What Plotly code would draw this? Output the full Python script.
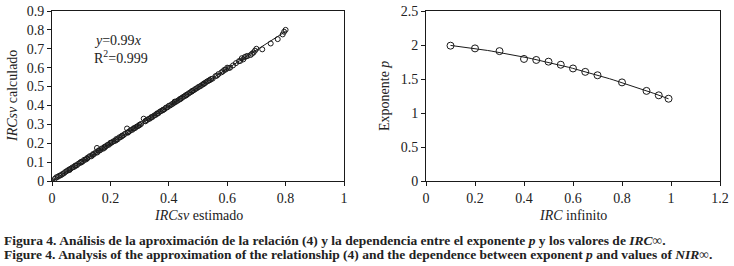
import plotly.graph_objects as go
import numpy as np

# Left panel: IRCsv estimado vs calculado
est = [0.0, 0.01, 0.015, 0.02, 0.025, 0.03, 0.035, 0.04, 0.045, 0.05, 0.055, 0.06, 0.065, 0.07, 0.075,
       0.08, 0.085, 0.09, 0.095, 0.10, 0.105, 0.11, 0.115, 0.12, 0.125, 0.13, 0.135, 0.14, 0.145,
       0.15, 0.155, 0.16, 0.165, 0.17, 0.175, 0.18, 0.185, 0.19, 0.195, 0.20, 0.205, 0.21, 0.215,
       0.22, 0.225, 0.23, 0.235, 0.24, 0.245, 0.25, 0.257, 0.26, 0.265, 0.27, 0.275, 0.28, 0.285,
       0.29, 0.295, 0.30, 0.305, 0.314, 0.32, 0.325, 0.33, 0.335, 0.34, 0.345, 0.35, 0.355, 0.36,
       0.365, 0.37, 0.375, 0.38, 0.385, 0.39, 0.395, 0.40, 0.405, 0.41, 0.415, 0.42, 0.425, 0.43,
       0.435, 0.44, 0.445, 0.45, 0.455, 0.46, 0.465, 0.47, 0.475, 0.48, 0.485, 0.49, 0.495, 0.50,
       0.505, 0.51, 0.515, 0.52, 0.525, 0.53, 0.535, 0.54, 0.545, 0.55, 0.56, 0.565, 0.57, 0.58,
       0.585, 0.59, 0.595, 0.60, 0.605, 0.61, 0.62, 0.63, 0.64, 0.645, 0.65, 0.655, 0.66, 0.665,
       0.67, 0.68, 0.685, 0.69, 0.695, 0.70, 0.72, 0.749, 0.773, 0.79, 0.795, 0.80,
       0.12, 0.14, 0.16, 0.18, 0.20, 0.22, 0.24, 0.26, 0.28, 0.30, 0.32, 0.34, 0.36, 0.38, 0.42,
       0.44, 0.46, 0.48, 0.52, 0.54, 0.10, 0.08, 0.06, 0.154]
calc = [0.0, 0.012, 0.02, 0.022, 0.028, 0.03, 0.036, 0.04, 0.047, 0.052, 0.057, 0.058, 0.066, 0.072, 0.074,
        0.082, 0.083, 0.091, 0.096, 0.102, 0.103, 0.112, 0.113, 0.121, 0.126, 0.132, 0.131, 0.142, 0.144,
        0.152, 0.151, 0.162, 0.163, 0.172, 0.171, 0.181, 0.184, 0.191, 0.192, 0.202, 0.204, 0.21, 0.212,
        0.222, 0.221, 0.231, 0.232, 0.24, 0.243, 0.25, 0.278, 0.258, 0.263, 0.27, 0.271, 0.279, 0.281,
        0.288, 0.291, 0.298, 0.302, 0.33, 0.318, 0.322, 0.328, 0.33, 0.338, 0.34, 0.347, 0.35, 0.358,
        0.36, 0.368, 0.371, 0.376, 0.38, 0.388, 0.39, 0.398, 0.4, 0.406, 0.41, 0.42, 0.42, 0.425,
        0.43, 0.436, 0.44, 0.446, 0.45, 0.456, 0.46, 0.466, 0.47, 0.476, 0.48, 0.486, 0.49, 0.496,
        0.5, 0.504, 0.51, 0.514, 0.52, 0.526, 0.53, 0.534, 0.54, 0.542, 0.555, 0.558, 0.566, 0.575,
        0.58, 0.588, 0.59, 0.6, 0.598, 0.6, 0.612, 0.624, 0.634, 0.636, 0.65, 0.644, 0.656, 0.66,
        0.662, 0.667, 0.674, 0.68, 0.69, 0.70, 0.697, 0.728, 0.751, 0.776, 0.79, 0.80,
        0.118, 0.138, 0.16, 0.176, 0.2, 0.216, 0.238, 0.256, 0.278, 0.296, 0.316, 0.336, 0.356, 0.376, 0.416,
        0.434, 0.454, 0.476, 0.516, 0.534, 0.098, 0.08, 0.062, 0.175]
fit_x = [0.0, 0.8]
fit_slope = 0.99

# Right panel: exponent p vs IRC infinito
irc_inf = [0.1, 0.2, 0.3, 0.4, 0.45, 0.5, 0.55, 0.6, 0.65, 0.7, 0.8, 0.9, 0.95, 0.99]
p_exp = [1.99, 1.95, 1.91, 1.795, 1.78, 1.755, 1.71, 1.655, 1.605, 1.555, 1.45, 1.325, 1.26, 1.21]

x_ticks_left = [0, 0.2, 0.4, 0.6, 0.8, 1]
y_ticks_left = [0, 0.1, 0.2, 0.3, 0.4, 0.5, 0.6, 0.7, 0.8, 0.9]
x_ticks_right = [0, 0.2, 0.4, 0.6, 0.8, 1, 1.2]
y_ticks_right = [0, 0.5, 1, 1.5, 2, 2.5]

FONT = "Liberation Serif"
W, H = 734, 266
ink = "#1a1a1a"

fig = go.Figure()

fit_y = [fit_slope * v for v in fit_x]
fig.add_trace(go.Scatter(x=fit_x, y=fit_y, mode="lines", line=dict(color=ink, width=1),
                         xaxis="x", yaxis="y", showlegend=False, hoverinfo="skip"))
fig.add_trace(go.Scatter(x=est, y=calc, mode="markers",
                         marker=dict(symbol="circle-open", size=5, color=ink, line=dict(width=1, color=ink)),
                         xaxis="x", yaxis="y", showlegend=False))

coef = np.polyfit(irc_inf, p_exp, 2)
cx = np.linspace(min(irc_inf), max(irc_inf), 60)
cy = np.polyval(coef, cx)
fig.add_trace(go.Scatter(x=cx, y=cy, mode="lines", line=dict(color=ink, width=1),
                         xaxis="x2", yaxis="y2", showlegend=False, hoverinfo="skip"))
fig.add_trace(go.Scatter(x=irc_inf, y=p_exp, mode="markers",
                         marker=dict(symbol="circle-open", size=7, color=ink, line=dict(width=1, color=ink)),
                         xaxis="x2", yaxis="y2", showlegend=False))

ybot, ytop = 1 - 181 / H, 1 - 11 / H
axcommon = dict(showline=True, linecolor=ink, linewidth=1, mirror=True, ticks="outside",
                ticklen=4, tickcolor=ink, showgrid=False, zeroline=False, automargin=False,
                tickfont=dict(family=FONT, size=14, color="#222"))

fig.update_layout(
    width=W, height=H, margin=dict(l=0, r=0, t=0, b=0, autoexpand=False),
    paper_bgcolor="white", plot_bgcolor="white",
    font=dict(family=FONT, color="#222"),
    xaxis=dict(domain=[52 / W, 344 / W], range=[0, 1], tickvals=x_ticks_left,
               ticktext=[f"{v:g}" for v in x_ticks_left], anchor="y", **axcommon),
    yaxis=dict(domain=[ybot, ytop], range=[0, 0.9], tickvals=y_ticks_left,
               ticktext=[f"{v:g}" for v in y_ticks_left], anchor="x", **axcommon),
    xaxis2=dict(domain=[426 / W, 720 / W], range=[0, 1.2], tickvals=x_ticks_right,
                ticktext=[f"{v:g}" for v in x_ticks_right], anchor="y2", **axcommon),
    yaxis2=dict(domain=[ybot, ytop], range=[0, 2.5], tickvals=y_ticks_right,
                ticktext=[f"{v:g}" for v in y_ticks_right], anchor="x2", **axcommon),
)

ann = []
def pa(x, y, text, size=14, xanchor="center", **kw):
    ann.append(dict(x=x / W, y=1 - y / H, xref="paper", yref="paper", text=text, showarrow=False,
                    xanchor=xanchor, yanchor="middle",
                    font=dict(family=FONT, size=size, color="#222"), **kw))

pa(198, 215, "<i>IRCsv</i> estimado")
pa(12, 96, "<i>IRCsv</i> calculado", textangle=-90)
pa(573, 215, "<i>IRC</i> infinito")
pa(384, 96, "Exponente <i>p</i>", textangle=-90)
pa(92, 40, "<i>y</i>=0.99<i>x</i>", xanchor="left")
pa(92, 57, "R<sup>2</sup>=0.999", xanchor="left")
pa(2, 240, "<b>Figura 4. Análisis de la aproximación de la relación (4) y la dependencia entre el exponente <i>p</i> y los valores de <i>IRC</i>∞.</b>",
   size=13.5, xanchor="left")
pa(2, 254, "<b>Figure 4. Analysis of the approximation of the relationship (4) and the dependence between exponent <i>p</i> and values of <i>NIR</i>∞.</b>",
   size=13.5, xanchor="left")
fig.update_layout(annotations=ann)

fig.write_html("out.html", config={"displayModeBar": False},
               post_script="document.body.style.margin='0px';")
